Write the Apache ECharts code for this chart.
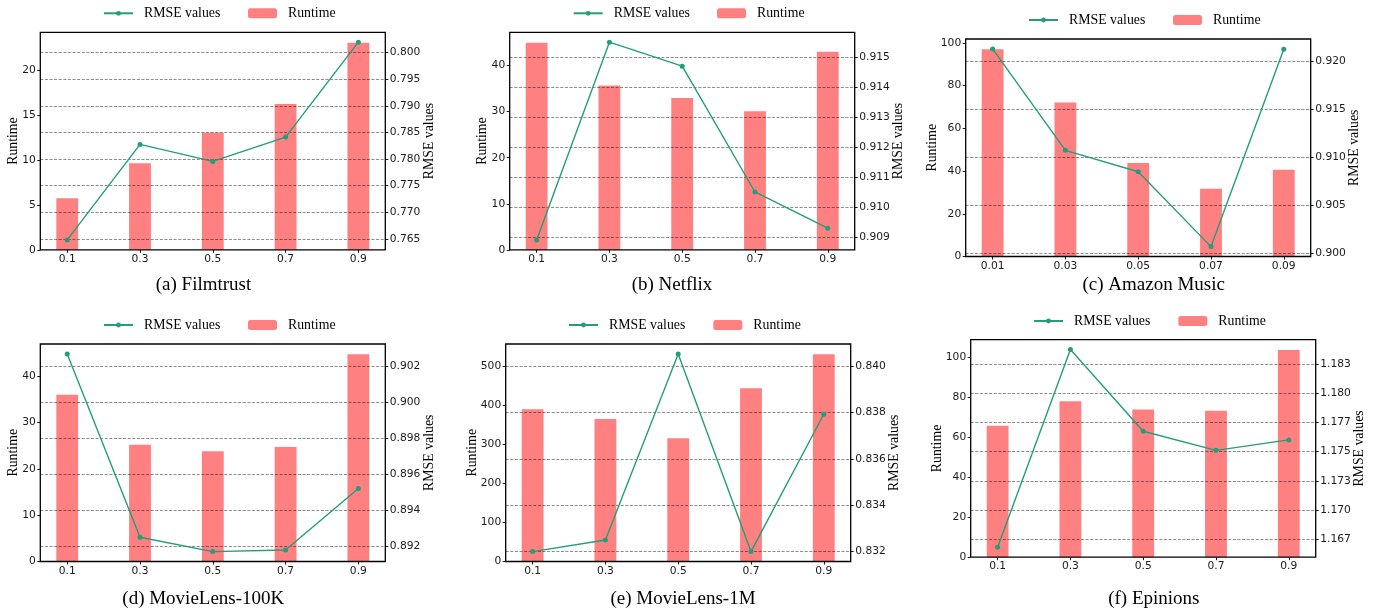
<!DOCTYPE html>
<html>
<head>
<meta charset="utf-8">
<script src="https://cdn.jsdelivr.net/npm/echarts@6/dist/echarts.min.js"></script>
<style>
  html, body { margin: 0; padding: 0; background: #fff; }
  #chart { width: 1381px; height: 616px; }
</style>
</head>
<body>
<div id="chart"></div>
<script>
// x categories (parameter values)
const paramsDefault = ['0.1', '0.3', '0.5', '0.7', '0.9'];
const paramsMusic = ['0.01', '0.03', '0.05', '0.07', '0.09'];

const subplotTitles = ['(a) Filmtrust', '(b) Netflix', '(c) Amazon Music',
  '(d) MovieLens-100K', '(e) MovieLens-1M', '(f) Epinions'];

// runtime (bars) and RMSE (line) per dataset
const runtimeFilmtrust = [5.72, 9.62, 13.0, 16.2, 23.03];
const rmseFilmtrust = [0.76481, 0.78274, 0.77955, 0.78412, 0.80194];
const runtimeNetflix = [45.0, 35.7, 33.0, 30.1, 43.0];
const rmseNetflix = [0.90891, 0.91551, 0.91471, 0.91051, 0.90930];
const runtimeMusic = [97.0, 72.1, 43.8, 31.7, 40.6];
const rmseMusic = [0.92131, 0.91075, 0.90852, 0.90073, 0.92128];
const runtimeML100K = [36.0, 25.2, 23.8, 24.7, 44.7];
const rmseML100K = [0.90268, 0.89250, 0.89170, 0.89179, 0.89520];
const runtimeML1M = [390, 365, 316, 444, 531];
const rmseML1M = [0.83200, 0.83250, 0.84052, 0.83200, 0.83792];
const runtimeEpinions = [65.7, 78.0, 73.9, 73.2, 103.6];
const rmseEpinions = [1.16682, 1.18372, 1.17674, 1.17511, 1.17600];

// tick values
const runtimeTicksFilmtrust = [0, 5, 10, 15, 20];
const rmseTicksFilmtrust = [0.765, 0.770, 0.775, 0.780, 0.785, 0.790, 0.795, 0.800];
const runtimeTicksNetflix = [0, 10, 20, 30, 40];
const rmseTicksNetflix = [0.909, 0.910, 0.911, 0.912, 0.913, 0.914, 0.915];
const runtimeTicksMusic = [0, 20, 40, 60, 80, 100];
const rmseTicksMusic = [0.900, 0.905, 0.910, 0.915, 0.920];
const runtimeTicksML100K = [0, 10, 20, 30, 40];
const rmseTicksML100K = [0.892, 0.894, 0.896, 0.898, 0.900, 0.902];
const runtimeTicksML1M = [0, 100, 200, 300, 400, 500];
const rmseTicksML1M = [0.832, 0.834, 0.836, 0.838, 0.840];
const runtimeTicksEpinions = [0, 20, 40, 60, 80, 100];
const rmseTicksEpinions = [1.1675, 1.1700, 1.1725, 1.1750, 1.1775, 1.1800, 1.1825];
const rmseTickLabelsEpinions = ['1.167', '1.170', '1.173', '1.175', '1.177', '1.180', '1.183'];

const panels = [
  { cats: paramsDefault, runtime: runtimeFilmtrust, rmse: rmseFilmtrust, rt: runtimeTicksFilmtrust, et: rmseTicksFilmtrust },
  { cats: paramsDefault, runtime: runtimeNetflix, rmse: rmseNetflix, rt: runtimeTicksNetflix, et: rmseTicksNetflix },
  { cats: paramsMusic, runtime: runtimeMusic, rmse: rmseMusic, rt: runtimeTicksMusic, et: rmseTicksMusic },
  { cats: paramsDefault, runtime: runtimeML100K, rmse: rmseML100K, rt: runtimeTicksML100K, et: rmseTicksML100K },
  { cats: paramsDefault, runtime: runtimeML1M, rmse: rmseML1M, rt: runtimeTicksML1M, et: rmseTicksML1M },
  { cats: paramsDefault, runtime: runtimeEpinions, rmse: rmseEpinions, rt: runtimeTicksEpinions, et: rmseTicksEpinions, etLabels: rmseTickLabelsEpinions }
];

// where each subplot sits on the page
const layout = [
  { left: 40.3, top: 32.3, lgLine: 103, lgBar: 248, lgY: 12.3, tx: 203.5, ty: 285 },
  { left: 509.7, top: 32.3, lgLine: 572.7, lgBar: 717, lgY: 12.3, tx: 672, ty: 285 },
  { left: 965.7, top: 39, lgLine: 1028, lgBar: 1173, lgY: 19, tx: 1153.7, ty: 285 },
  { left: 40.3, top: 344, lgLine: 103, lgBar: 248, lgY: 324, tx: 203.3, ty: 599 },
  { left: 505.7, top: 344, lgLine: 568, lgBar: 713.3, lgY: 324, tx: 683, ty: 599 },
  { left: 970.7, top: 339.7, lgLine: 1033, lgBar: 1178.3, lgY: 320, tx: 1153.8, ty: 599 }
];

const gridW = 345;
const gridH = 217.5;
const xPad = 0.37;
const barW = 0.3 * gridW / (4 + 2 * xPad);

const tickFont = 'DejaVu Sans';
const serif = 'Liberation Serif';
const barColor = '#ff8080';
const lineColor = '#229e7a';

const grid = [], xAxis = [], yAxis = [], series = [], legend = [], graphic = [];

panels.forEach((p, k) => {
  const L = layout[k];
  grid.push({
    left: L.left, top: L.top, width: gridW, height: gridH,
    show: true, borderColor: '#000', borderWidth: 1.3,
    backgroundColor: 'transparent', z: 10
  });

  const idx = p.cats.map((c, i) => i);
  xAxis.push({
    type: 'value', gridIndex: k, min: -xPad, max: p.cats.length - 1 + xPad,
    axisLine: { show: false, onZero: false },
    axisTick: { show: true, length: 3, customValues: idx, lineStyle: { color: '#000', width: 0.9 } },
    axisLabel: {
      customValues: idx, formatter: (v) => p.cats[Math.round(v)],
      margin: 4, fontFamily: tickFont, fontSize: 10.7, color: '#1a1a1a'
    },
    splitLine: { show: false }
  });

  const rtMax = Math.max(...p.runtime) * 1.05;
  const lo = Math.min(...p.rmse), hi = Math.max(...p.rmse);
  const m = (hi - lo) * 0.05;
  // y label sits further out when the tick labels are wider
  const digits = String(Math.max(...p.rt)).length;
  const leftGap = 20 + (digits - 2) * 6.5;

  yAxis.push({
    type: 'value', gridIndex: k, position: 'left', min: 0, max: rtMax,
    name: 'Runtime', nameLocation: 'middle', nameRotate: 90, nameGap: leftGap, nameMoveOverlap: false,
    nameTextStyle: { fontFamily: serif, fontSize: 13.8, color: '#000' },
    axisLine: { show: false, onZero: false },
    axisTick: { show: true, length: 3, customValues: p.rt, lineStyle: { color: '#000', width: 0.9 } },
    axisLabel: {
      customValues: p.rt, margin: 4.5,
      fontFamily: tickFont, fontSize: 10.7, color: '#1a1a1a'
    },
    splitLine: { show: false }
  });

  yAxis.push({
    type: 'value', gridIndex: k, position: 'right', min: lo - m, max: hi + m, z: 3,
    name: 'RMSE values', nameLocation: 'middle', nameRotate: 90, nameGap: 37, nameMoveOverlap: false,
    nameTextStyle: { fontFamily: serif, fontSize: 13.8, color: '#000' },
    axisLine: { show: false, onZero: false },
    axisTick: { show: true, length: 3, customValues: p.et, lineStyle: { color: '#000', width: 0.9 } },
    axisLabel: {
      customValues: p.et, margin: 4.5,
      formatter: (v) => p.etLabels ? p.etLabels[p.et.indexOf(v)] : v.toFixed(3),
      fontFamily: tickFont, fontSize: 10.7, color: '#1a1a1a'
    },
    splitLine: { show: true, lineStyle: { color: 'rgba(0,0,0,0.45)', width: 1, type: [3, 1.6] } }
  });

  series.push({
    name: 'Runtime', type: 'bar', xAxisIndex: k, yAxisIndex: 2 * k,
    barWidth: barW, itemStyle: { color: barColor },
    data: p.runtime.map((v, i) => [i, v]), z: 2
  });
  series.push({
    name: 'RMSE values', type: 'line', xAxisIndex: k, yAxisIndex: 2 * k + 1,
    symbol: 'circle', symbolSize: 5, showSymbol: true,
    lineStyle: { color: lineColor, width: 1.4 }, itemStyle: { color: lineColor },
    data: p.rmse.map((v, i) => [i, v]), z: 5
  });

  const lgText = { fontFamily: serif, fontSize: 13.8, color: '#000', padding: [0, 0, 0, 6] };
  legend.push({
    data: ['RMSE values'], left: L.lgLine, top: L.lgY - 6, padding: 0,
    itemWidth: 29, itemHeight: 6, textStyle: lgText, selectedMode: false
  });
  legend.push({
    data: ['Runtime'], left: L.lgBar, top: L.lgY - 6, padding: 0,
    itemWidth: 29, itemHeight: 10, textStyle: lgText, selectedMode: false
  });

  graphic.push({
    type: 'text', x: L.tx, y: L.ty,
    style: {
      text: subplotTitles[k], fill: '#000', align: 'center', verticalAlign: 'middle',
      font: '19px "Liberation Serif"'
    }
  });
});

const chart = echarts.init(document.getElementById('chart'));
chart.setOption({
  backgroundColor: '#fff',
  animation: false,
  grid, xAxis, yAxis, series, legend, graphic
});
</script>
</body>
</html>
